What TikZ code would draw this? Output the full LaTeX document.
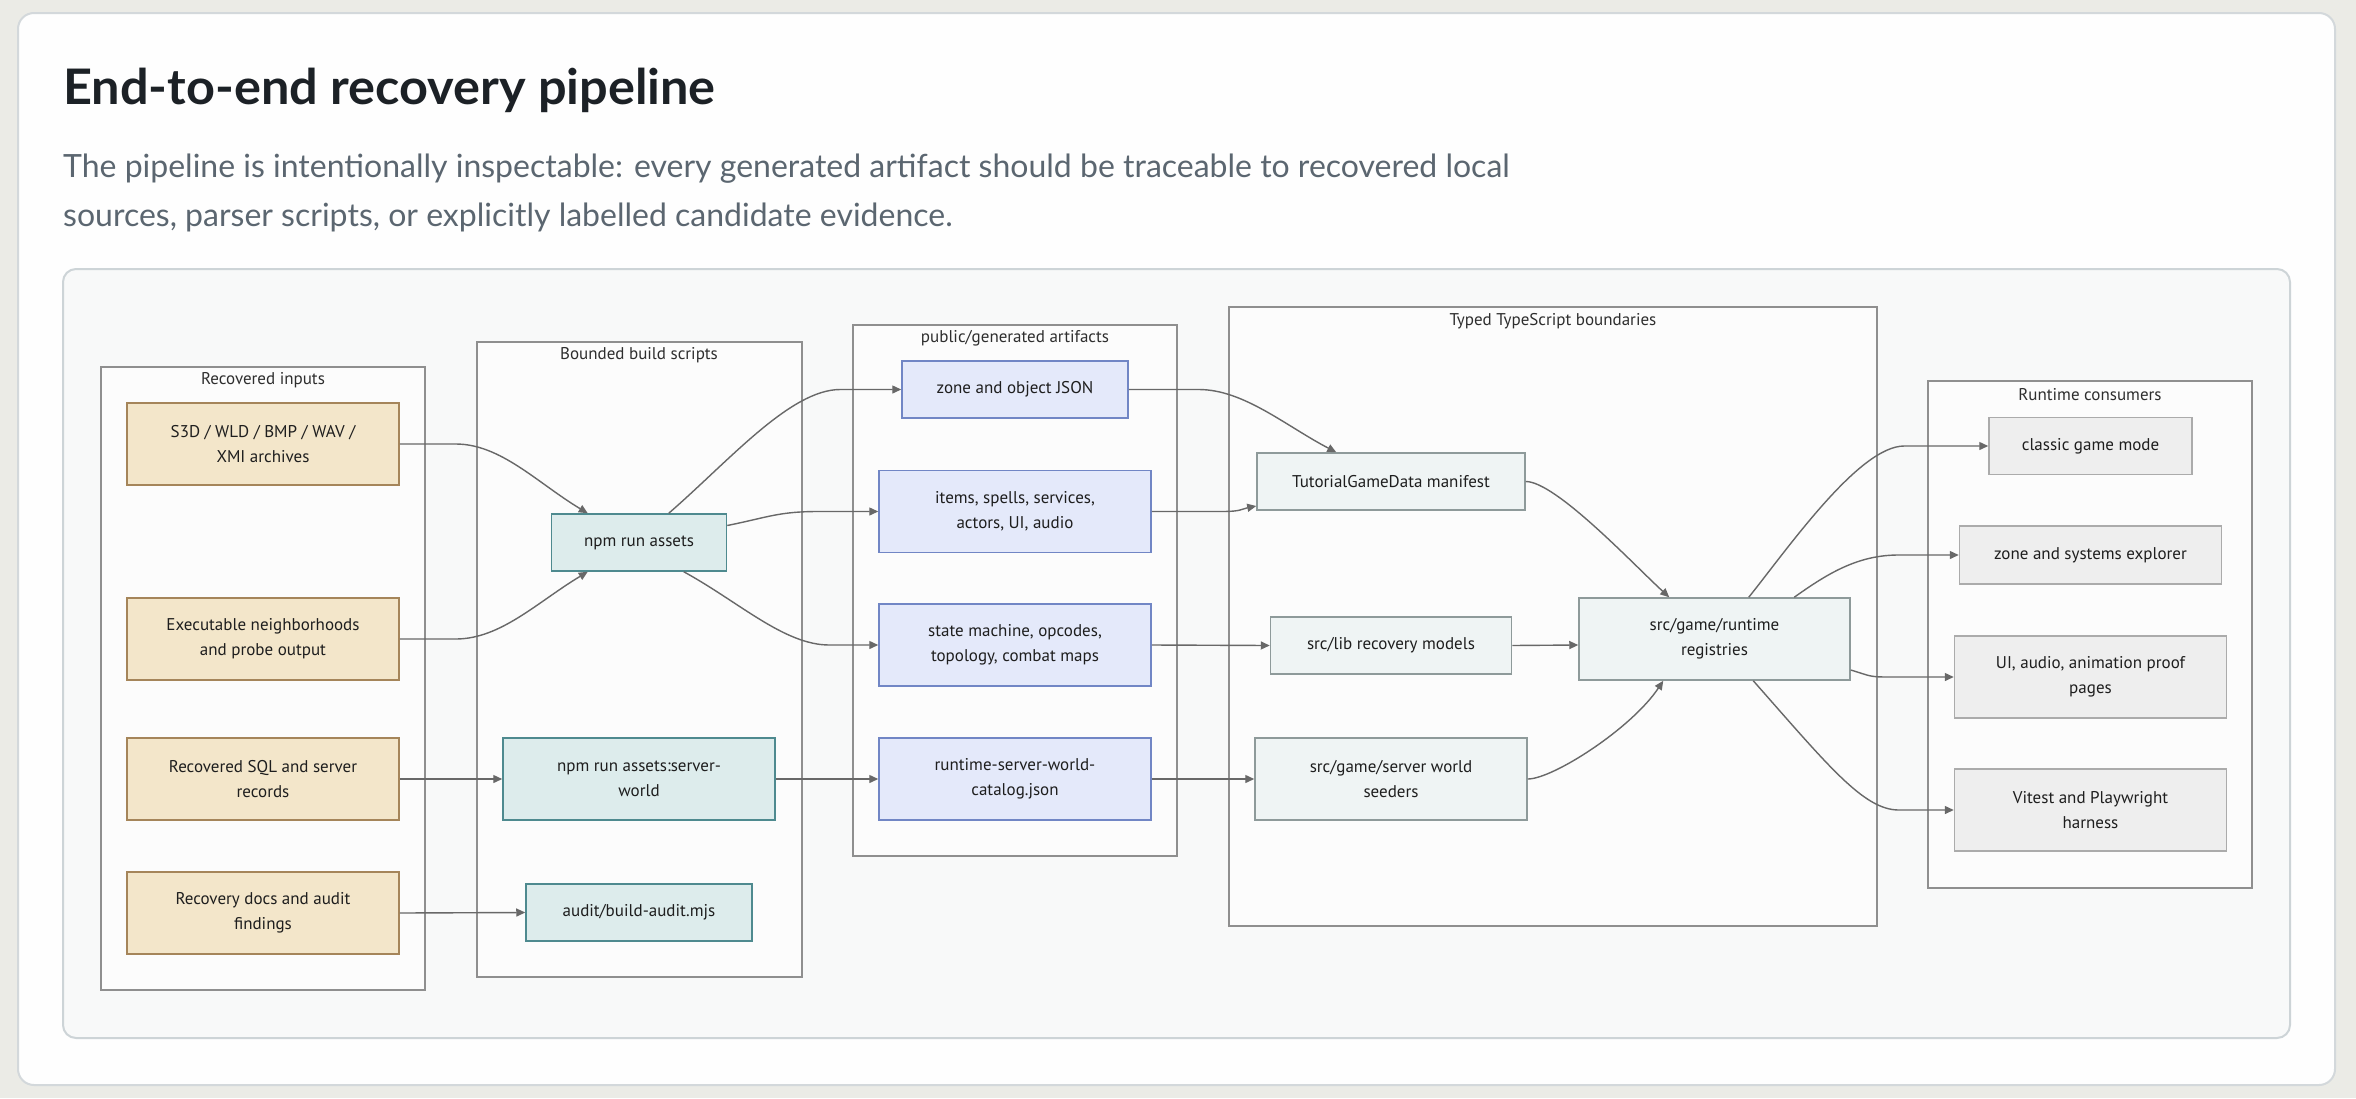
\documentclass[tikz,border=0pt]{standalone}
\usepackage{fontspec}
\setmainfont{PT Sans}
\newfontfamily\headfont{Lato}
\usetikzlibrary{arrows.meta,calc}
\definecolor{pagebg}{HTML}{EBEBE6}
\definecolor{cardbg}{HTML}{FEFEFE}
\definecolor{cardline}{HTML}{D3D8DB}
\definecolor{panelbg}{HTML}{F8F9F9}
\definecolor{panelline}{HTML}{CDD4D7}
\definecolor{titlecol}{HTML}{1C2126}
\definecolor{subcol}{HTML}{5B6670}
\definecolor{clusterline}{HTML}{8F8F8F}
\definecolor{clusterbg}{HTML}{FCFCFC}
\definecolor{inFill}{HTML}{F3E6CA}
\definecolor{inLine}{HTML}{A5855A}
\definecolor{bFill}{HTML}{DDECEC}
\definecolor{bLine}{HTML}{4E8A8F}
\definecolor{aFill}{HTML}{E4E9FA}
\definecolor{aLine}{HTML}{7186C5}
\definecolor{tFill}{HTML}{EFF4F4}
\definecolor{tLine}{HTML}{8E9A9A}
\definecolor{rFill}{HTML}{EEEEEE}
\definecolor{rLine}{HTML}{ABABAB}
\definecolor{edgecol}{HTML}{686868}
\definecolor{nodetext}{HTML}{1E1E1E}
\begin{document}
\begin{tikzpicture}[x=1pt,y=-1pt,
  box/.style={draw, line width=1.5pt, inner sep=0pt, align=center, text=nodetext,
    font=\fontsize{17}{25}\selectfont},
  inbox/.style={box, fill=inFill, draw=inLine},
  buildbox/.style={box, fill=bFill, draw=bLine},
  artbox/.style={box, fill=aFill, draw=aLine},
  typedbox/.style={box, fill=tFill, draw=tLine},
  runbox/.style={box, fill=rFill, draw=rLine},
  cluster/.style={draw=clusterline, fill=clusterbg, line width=1.5pt},
  ctitle/.style={inner sep=0pt, text=black!82, font=\fontsize{17}{20}\selectfont},
  edge/.style={draw=edgecol, line width=1.4pt, -{Triangle[length=9pt,width=8pt]}}
]
\useasboundingbox (0,0) rectangle (2356,1098);
\fill[pagebg] (0,0) rectangle (2356,1098);
\draw[fill=cardbg, draw=cardline, line width=2pt, rounded corners=16pt] (18,13) rectangle (2335,1085);
\node[anchor=base west, inner sep=0pt, text=titlecol, font=\headfont\bfseries\fontsize{49}{56}\selectfont] (title) at (63,104) {\scalebox{1.03}[1]{End-to-end recovery pipeline}};
\node[anchor=base west, inner sep=0pt, text=subcol, font=\headfont\fontsize{32}{49}\selectfont] (sub1) at (63,177) {The pipeline is intentionally inspectable: every generated artifact should be traceable to recovered local};
\node[anchor=base west, inner sep=0pt, text=subcol, font=\headfont\fontsize{32}{49}\selectfont] (sub2) at (63,226) {sources, parser scripts, or explicitly labelled candidate evidence.};
\draw[fill=panelbg, draw=panelline, line width=2pt, rounded corners=13pt] (63,269) rectangle (2290,1038);

% clusters
\draw[cluster] (101,367) rectangle (425,990);
\node[ctitle] (c1t) at (263,380) {Recovered inputs};
\draw[cluster] (477,342) rectangle (802,977);
\node[ctitle] (c2t) at (639,355) {Bounded build scripts};
\draw[cluster] (853,325) rectangle (1177,856);
\node[ctitle] (c3t) at (1015,338) {public/generated artifacts};
\draw[cluster] (1229,307) rectangle (1877,926);
\node[ctitle] (c4t) at (1553,321) {Typed TypeScript boundaries};
\draw[cluster] (1928,381) rectangle (2252,888);
\node[ctitle] (c5t) at (2090,395) {Runtime consumers};

% nodes
\node[inbox, minimum width=272pt, minimum height=82pt] (inA) at (263,444) {S3D / WLD / BMP / WAV /\\XMI archives};
\node[inbox, minimum width=272pt, minimum height=82pt] (inB) at (263,639) {Executable neighborhoods\\and probe output};
\node[inbox, minimum width=272pt, minimum height=82pt] (inC) at (263,779) {Recovered SQL and server\\records};
\node[inbox, minimum width=272pt, minimum height=82pt] (inD) at (263,913) {Recovery docs and audit\\findings};

\node[buildbox, minimum width=175pt, minimum height=57pt] (bA) at (639,542.5) {npm run assets};
\node[buildbox, minimum width=272pt, minimum height=82pt] (bB) at (639,779) {npm run assets:server-\\world};
\node[buildbox, minimum width=226pt, minimum height=57pt] (bC) at (639,912.5) {audit/build-audit.mjs};

\node[artbox, minimum width=226pt, minimum height=57pt] (aA) at (1015,389.5) {zone and object JSON};
\node[artbox, minimum width=272pt, minimum height=82pt] (aB) at (1015,511.5) {items, spells, services,\\actors, UI, audio};
\node[artbox, minimum width=272pt, minimum height=82pt] (aC) at (1015,645) {state machine, opcodes,\\topology, combat maps};
\node[artbox, minimum width=272pt, minimum height=82pt] (aD) at (1015,779) {runtime-server-world-\\catalog.json};

\node[typedbox, minimum width=268pt, minimum height=57pt] (tA) at (1391,481.5) {TutorialGameData manifest};
\node[typedbox, minimum width=241pt, minimum height=57pt] (tB) at (1391,645.5) {src/lib recovery models};
\node[typedbox, minimum width=272pt, minimum height=82pt] (tC) at (1391,779) {src/game/server world\\seeders};
\node[typedbox, minimum width=271pt, minimum height=82pt] (tD) at (1714.5,639) {src/game/runtime\\registries};

\node[runbox, minimum width=203pt, minimum height=57pt] (rA) at (2090.5,446) {classic game mode};
\node[runbox, minimum width=262pt, minimum height=58pt] (rB) at (2090.5,555) {zone and systems explorer};
\node[runbox, minimum width=272pt, minimum height=82pt] (rC) at (2090.5,677) {UI, audio, animation proof\\pages};
\node[runbox, minimum width=272pt, minimum height=82pt] (rD) at (2090.5,810) {Vitest and Playwright\\harness};

% edges
\draw[edge] (inA.east) -- ++(56,0) .. controls +(45,0) and +(-50,-30) .. ($(bA.north west)+(37,0)$);
\draw[edge] (inB.east) -- ++(56,0) .. controls +(45,0) and +(-50,30) .. ($(bA.south west)+(37,0)$);
\draw[edge] ($(bA.north west)+(118,0)$) .. controls +(60,-52) and +(-50,0) .. ($(aA.west)+(-61,0)$) -- (aA.west);
\draw[edge] ($(bA.east)+(0,-17)$) .. controls +(40,-8) and +(-40,0) .. ($(aB.west)+(-60,0)$) -- (aB.west);
\draw[edge] ($(bA.south west)+(133,0)$) .. controls +(55,30) and +(-45,0) .. ($(aC.west)+(-49,0)$) -- (aC.west);
\draw[edge] (inC.east) -- (bB.west);
\draw[edge] (inD.east) -- (bC.west);
\draw[edge] (bB.east) -- (aD.west);
\draw[edge] (aA.east) -- ++(70,0) .. controls +(45,0) and +(-50,-26) .. ($(tA.north west)+(80,0)$);
\draw[edge] (aB.east) -- ++(70,0) .. controls +(20,0) and +(-15,3) .. ($(tA.west)+(0,24.5)$);
\draw[edge] (aC.east) -- (tB.west);
\draw[edge] (aD.east) -- (tC.west);
\draw[edge] (tA.east) .. controls +(30,0) and +(-35,-32) .. ($(tD.north west)+(91,0)$);
\draw[edge] (tB.east) -- ($(tD.west)+(0,6)$);
\draw[edge] (tC.east) .. controls +(25,0) and +(-32,48) .. ($(tD.south west)+(85,0)$);
\draw[edge] ($(tD.north west)+(170.5,0)$) .. controls +(40,-50) and +(-45,0) .. ($(rA.west)+(-84,0)$) -- (rA.west);
\draw[edge] ($(tD.north west)+(216,0)$) .. controls +(35,-25) and +(-40,0) .. ($(rB.west)+(-60,0)$) -- (rB.west);
\draw[edge] ($(tD.east)+(0,31)$) .. controls +(20,6) and +(-20,0) .. ($(rC.west)+(-65,0)$) -- (rC.west);
\draw[edge] ($(tD.south west)+(175,0)$) .. controls +(75,85) and +(-35,0) .. ($(rD.west)+(-55,0)$) -- (rD.west);
\end{tikzpicture}
\end{document}
